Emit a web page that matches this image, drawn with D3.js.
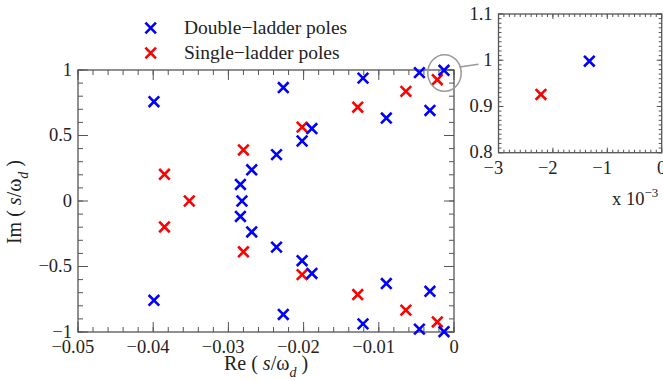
<!DOCTYPE html>
<html><head><meta charset="utf-8">
<script src="https://cdn.jsdelivr.net/npm/d3@7"></script>
<style>
html,body{margin:0;padding:0;background:#fff;}
svg{display:block;font-family:"Liberation Serif","DejaVu Serif",serif;}
</style></head>
<body>
<svg id="c" width="663" height="381"></svg>
<script>
// ---------- data ----------
const doubleRe = [-0.0399,-0.0227,-0.0189,-0.0202,-0.0236,-0.0269,-0.0284,-0.0282,-0.0284,-0.0269,-0.0236,-0.0202,-0.0189,-0.0227,-0.0399,
                  -0.0121,-0.0090,-0.0046,-0.0032,-0.00133,-0.0032,-0.0046,-0.0090,-0.0121,-0.00133];
const doubleIm = [0.758,0.866,0.553,0.458,0.354,0.238,0.126,0.0,-0.118,-0.236,-0.352,-0.456,-0.553,-0.866,-0.758,
                  0.938,0.633,0.980,0.691,0.998,-0.689,-0.978,-0.630,-0.938,-0.998];
const singleRe = [-0.0202,-0.0280,-0.0385,-0.0352,-0.0385,-0.0280,-0.0202,-0.0128,-0.0064,-0.00222,-0.0128,-0.0064,-0.00222];
const singleIm = [0.564,0.390,0.204,0.0,-0.198,-0.388,-0.562,0.716,0.837,0.926,-0.714,-0.833,-0.923];

const seriesNames = ["Double\u2212ladder poles","Single\u2212ladder poles"];
const seriesColors = ["#0000ff","#ff0000"];

const xTicks = [-0.05,-0.04,-0.03,-0.02,-0.01,0];
const xTickLabels = ["\u22120.05","\u22120.04","\u22120.03","\u22120.02","\u22120.01","0"];
const yTicks = [-1,-0.5,0,0.5,1];
const yTickLabels = ["\u22121","\u22120.5","0","0.5","1"];

const insetXTicks = [-3e-3,-2e-3,-1e-3,0];
const insetXTickLabels = ["\u22123","\u22122","\u22121","0"];
const insetYTicks = [0.8,0.9,1.0,1.1];
const insetYTickLabels = ["0.8","0.9","1","1.1"];

const calloutCenter = [-0.00133, 0.977]; // data coords of zoom circle

// ---------- layout ----------
const svg = d3.select("#c");
const axisColor = "#555";
const textColor = "#222";
const tickFont = 18.5;

const x = d3.scaleLinear().domain([-0.05,0]).range([78,454]);
const y = d3.scaleLinear().domain([-1,1]).range([332,70]);
const xi = d3.scaleLinear().domain([-3e-3,0]).range([498.5,661.7]);
const yi = d3.scaleLinear().domain([0.8,1.1]).range([152.7,14]);

function range(a,b,s){const r=[];for(let v=a;v<=b+s/2;v+=s)r.push(+v.toFixed(6));return r;}

function drawFrame(g, xs, ys, xMaj, xMin, yMaj, yMin, majLen, minLen, xLab, yLab){
  const [x0,x1]=xs.range(), [y0,y1]=ys.range(); // y0 bottom, y1 top
  const tk = g.append("g").attr("stroke",axisColor).attr("stroke-width",1);
  xMin.forEach(v=>{const px=xs(v);
    tk.append("line").attr("x1",px).attr("x2",px).attr("y1",y0).attr("y2",y0-minLen);
    tk.append("line").attr("x1",px).attr("x2",px).attr("y1",y1).attr("y2",y1+minLen);});
  xMaj.forEach(v=>{const px=xs(v);
    tk.append("line").attr("x1",px).attr("x2",px).attr("y1",y0).attr("y2",y0-majLen);
    tk.append("line").attr("x1",px).attr("x2",px).attr("y1",y1).attr("y2",y1+majLen);});
  yMin.forEach(v=>{const py=ys(v);
    tk.append("line").attr("y1",py).attr("y2",py).attr("x1",x0).attr("x2",x0+minLen);
    tk.append("line").attr("y1",py).attr("y2",py).attr("x1",x1).attr("x2",x1-minLen);});
  yMaj.forEach(v=>{const py=ys(v);
    tk.append("line").attr("y1",py).attr("y2",py).attr("x1",x0).attr("x2",x0+majLen);
    tk.append("line").attr("y1",py).attr("y2",py).attr("x1",x1).attr("x2",x1-majLen);});
  g.append("rect").attr("x",x0).attr("y",y1).attr("width",x1-x0).attr("height",y0-y1)
    .attr("fill","none").attr("stroke",axisColor).attr("stroke-width",1.3);
  g.append("g").selectAll("text").data(xMaj).join("text")
    .attr("x",d=>xs(d)).attr("y",y0+21).attr("text-anchor","middle")
    .attr("dx",(d,i)=>xLab[i].startsWith("\u2212")?"-0.28em":0)
    .attr("font-size",tickFont).attr("fill",textColor).text((d,i)=>xLab[i]);
  g.append("g").selectAll("text").data(yMaj).join("text")
    .attr("x",x0-6).attr("y",d=>ys(d)).attr("dy","0.3em").attr("text-anchor","end")
    .attr("font-size",tickFont).attr("fill",textColor).text((d,i)=>yLab[i]);
}

drawFrame(svg.append("g"), x, y, xTicks, range(-0.05,0,0.002), yTicks, range(-1,1,0.1), 10, 5, xTickLabels, yTickLabels);
drawFrame(svg.append("g"), xi, yi, insetXTicks, range(-3e-3,0,1e-4), insetYTicks, range(0.8,1.1,0.01), 5, 3, insetXTickLabels, insetYTickLabels);

function cross(g, px, py, col, s){
  g.append("path").attr("d",`M${px-s},${py-s}L${px+s},${py+s}M${px-s},${py+s}L${px+s},${py-s}`)
   .attr("stroke",col).attr("stroke-width",2.6).attr("fill","none");
}
const mk = svg.append("g");
singleRe.forEach((r,i)=>cross(mk,x(r),y(singleIm[i]),seriesColors[1],5.3));
doubleRe.forEach((r,i)=>cross(mk,x(r),y(doubleIm[i]),seriesColors[0],5.3));

const mi = svg.append("g");
singleRe.forEach((r,i)=>{ if(r>=-3e-3 && singleIm[i]>=0.8) cross(mi,xi(r),yi(singleIm[i]),seriesColors[1],5.3);});
doubleRe.forEach((r,i)=>{ if(r>=-3e-3 && doubleIm[i]>=0.8) cross(mi,xi(r),yi(doubleIm[i]),seriesColors[0],5.3);});

const cx = x(calloutCenter[0]), cy = y(calloutCenter[1]);
svg.append("ellipse").attr("cx",cx+0.5).attr("cy",cy).attr("rx",16.7).attr("ry",18.3)
  .attr("fill","none").attr("stroke","#999").attr("stroke-width",1.5);
svg.append("line").attr("x1",cx+15.5).attr("y1",cy-6).attr("x2",xi.range()[0]-20).attr("y2",yi(1)+4)
  .attr("stroke","#999").attr("stroke-width",1.5);

const mult = svg.append("text").attr("x",612).attr("y",205).attr("font-size",tickFont).attr("fill",textColor);
mult.append("tspan").text("x 10");
mult.append("tspan").attr("dy",-8).attr("font-size",13).text("\u22123");

const xl = svg.append("text").attr("x",266).attr("y",370).attr("text-anchor","middle").attr("font-size",20).attr("fill",textColor);
xl.append("tspan").text("Re ( ");
xl.append("tspan").attr("font-style","italic").text("s");
xl.append("tspan").text("/\u03c9");
xl.append("tspan").attr("font-style","italic").attr("font-size",14).attr("dy",7).text("d");
xl.append("tspan").attr("dy",-7).text(" )");

const yl = svg.append("text").attr("transform","translate(21,202) rotate(-90)").attr("text-anchor","middle").attr("font-size",20).attr("fill",textColor);
yl.append("tspan").text("Im ( ");
yl.append("tspan").attr("font-style","italic").text("s");
yl.append("tspan").text("/\u03c9");
yl.append("tspan").attr("font-style","italic").attr("font-size",14).attr("dy",7).text("d");
yl.append("tspan").attr("dy",-7).text(" )");

const lg = svg.append("g");
seriesNames.forEach((n,i)=>{
  const ly = 28 + i*25;
  cross(lg,150.7,ly,seriesColors[i],5.3);
  lg.append("text").attr("x",184).attr("y",ly).attr("dy","0.33em").attr("font-size",19.5).attr("fill",textColor).text(n);
});
</script>
</body></html>
